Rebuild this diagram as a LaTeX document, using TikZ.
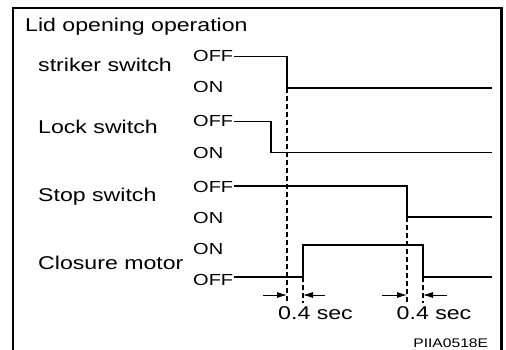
\documentclass[tikz,border=0pt]{standalone}
\usepackage{fontspec}
\setmainfont{Liberation Sans}[FakeStretch=1.25]
\usetikzlibrary{arrows.meta, positioning, calc}

\begin{document}
\begin{tikzpicture}[
      x=1pt, y=-1pt,
      signame/.style={anchor=base west, inner sep=0pt, font=\fontsize{18.5}{20}\selectfont},
      level/.style={anchor=west, inner sep=0pt, font=\fontsize{16}{18}\selectfont},
      delay/.style={anchor=base, inner sep=0pt, font=\fontsize{18.5}{20}\selectfont},
      frame/.style={line width=2.7pt},
      wave/.style={line width=1.2pt},
      guide/.style={line width=1.3pt, dash pattern=on 5pt off 3pt},
      gap/.style={-{Latex[length=10pt, width=6pt]}, line width=0.8pt}
    ]
    \useasboundingbox (0,0) rectangle (506,350);
    \draw[frame] (13,350) -- (13,8) -- (501.5,8) -- (501.5,350);

    \node[signame] (title) at (25,31.7) {Lid opening operation};
    \node[signame] (striker) at (38,71.7) {striker switch};
    \node[signame] (lock) at (38,133.5) {Lock switch};
    \node[signame] (stop) at (38,201.7) {Stop switch};
    \node[signame] (motor) at (38,269) {Closure motor};

    \node[level] (sOff) at (193,56) {OFF};
    \node[level] (sOn) at (193,87) {ON};
    \node[level] (lOff) at (193,121) {OFF};
    \node[level] (lOn) at (193,152.5) {ON};
    \node[level] (pOff) at (193,186.5) {OFF};
    \node[level] (pOn) at (193,218) {ON};
    \node[level] (mOn) at (193,248.5) {ON};
    \node[level] (mOff) at (193,280) {OFF};

    \coordinate (t0) at (271,303);
    \coordinate (t1) at (287,303);
    \coordinate (t2) at (303,303);
    \coordinate (t3) at (407,303);
    \coordinate (t4) at (423,303);
    \coordinate (e) at (492,0);

    \draw[wave] (sOff.east) ++(1,0.5) coordinate (s0) -| (t1 |- 0,88) coordinate (s1) -- (e |- s1);
    \draw[wave] (lOff.east) ++(1,0.5) coordinate (l0) -| (t0 |- 0,152.5) coordinate (l1) -- (e |- l1);
    \draw[wave] (pOff.east) ++(1,-0.5) coordinate (p0) -| (t3 |- 0,217) coordinate (p1) -- (e |- p1);
    \draw[wave] (mOff.east) ++(1,-3) coordinate (m0) -| (t2 |- 0,245) coordinate (m1) -| (t4 |- m0) coordinate (m2) -- (e |- m2);

    \draw[guide] (s1) -- (t1);
    \draw[guide] (p1) -- (t3);
    \draw[guide] (t2 |- m0) -- (t2);
    \draw[guide] (m2) -- (t4);

    \draw[gap] (263,295) -- (t1 |- 0,295);
    \draw[gap] (325,295) -- (t2 |- 0,295);
    \draw[gap] (382,295) -- (t3 |- 0,295);
    \draw[gap] (447,295) -- (t4 |- 0,295);

    \node[delay] (d1) at (315.5,319.5) {0.4 sec};
    \node[delay] (d2) at (434,319.5) {0.4 sec};
    \node[inner sep=0pt, font=\fontsize{12.5}{14}\selectfont] (code) at (450.7,343) {PIIA0518E};
  \end{tikzpicture}
\end{document}
